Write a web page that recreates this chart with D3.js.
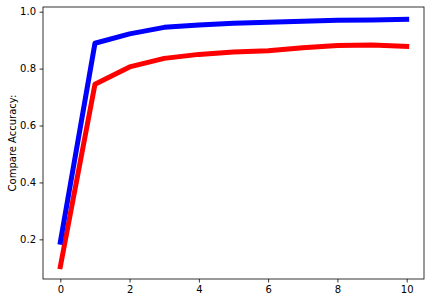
<!DOCTYPE html>
<html>
<head>
<meta charset="utf-8">
<script src="https://cdn.jsdelivr.net/npm/d3@7"></script>
<style>
  body { margin: 0; background: #fff; }
  text { font-family: "DejaVu Sans", sans-serif; font-size: 10px; fill: #000; }
</style>
</head>
<body>
<div id="chart"></div>
<script>
// data
var epochs = [0, 1, 2, 3, 4, 5, 6, 7, 8, 9, 10];
var blueAcc = [0.190, 0.889, 0.922, 0.945, 0.953, 0.959, 0.963, 0.966, 0.970, 0.971, 0.973];
var redAcc = [0.104, 0.745, 0.806, 0.836, 0.850, 0.858, 0.863, 0.873, 0.881, 0.883, 0.878];
var xTicks = [0, 2, 4, 6, 8, 10];
var yTicks = [0.2, 0.4, 0.6, 0.8, 1.0];
var yLabel = "Compare Accuracy:";

var width = 428, height = 296;
// note: "top" is a reserved window prop, so use plot* names
var plotLeft = 43, plotRight = 424, plotTop = 7, plotBottom = 279;

var svg = d3.select("#chart").append("svg")
    .attr("width", width)
    .attr("height", height);

var x = d3.scaleLinear().domain([-0.5, 10.5]).range([plotLeft, plotRight]);
var y = d3.scaleLinear().domain([0.0607, 1.0165]).range([plotBottom, plotTop]);

var line = d3.line()
    .x(function (d, i) { return x(epochs[i]); })
    .y(function (d) { return y(d); });

var plot = svg.append("g");

plot.append("path")
    .datum(redAcc)
    .attr("d", line)
    .attr("fill", "none")
    .attr("stroke", "#ff0000")
    .attr("stroke-width", 5)
    .attr("stroke-linejoin", "round")
    .attr("stroke-linecap", "square");

plot.append("path")
    .datum(blueAcc)
    .attr("d", line)
    .attr("fill", "none")
    .attr("stroke", "#0000ff")
    .attr("stroke-width", 5)
    .attr("stroke-linejoin", "round")
    .attr("stroke-linecap", "square");

// axes
var xAxis = svg.append("g")
    .attr("transform", "translate(0," + plotBottom + ")")
    .call(d3.axisBottom(x).tickValues(xTicks).tickFormat(d3.format("d")).tickSizeInner(3.5).tickSizeOuter(0).tickPadding(3.5));

var yAxis = svg.append("g")
    .attr("transform", "translate(" + plotLeft + ",0)")
    .call(d3.axisLeft(y).tickValues(yTicks).tickFormat(d3.format(".1f")).tickSizeInner(3.5).tickSizeOuter(0).tickPadding(3.5));

[xAxis, yAxis].forEach(function (a) {
    a.select(".domain").remove();
    a.selectAll("line").attr("stroke", "#000").attr("stroke-width", 0.8);
    a.selectAll("text").style("font-size", "10px").style("font-family", "DejaVu Sans, sans-serif").attr("fill", "#000");
});

// frame
svg.append("rect")
    .attr("x", plotLeft)
    .attr("y", plotTop)
    .attr("width", plotRight - plotLeft)
    .attr("height", plotBottom - plotTop)
    .attr("fill", "none")
    .attr("stroke", "#000")
    .attr("stroke-width", 0.8);

svg.append("text")
    .attr("transform", "translate(12," + ((plotTop + plotBottom) / 2) + ") rotate(-90)")
    .attr("text-anchor", "middle")
    .attr("dy", "0.35em")
    .text(yLabel);
</script>
</body>
</html>
